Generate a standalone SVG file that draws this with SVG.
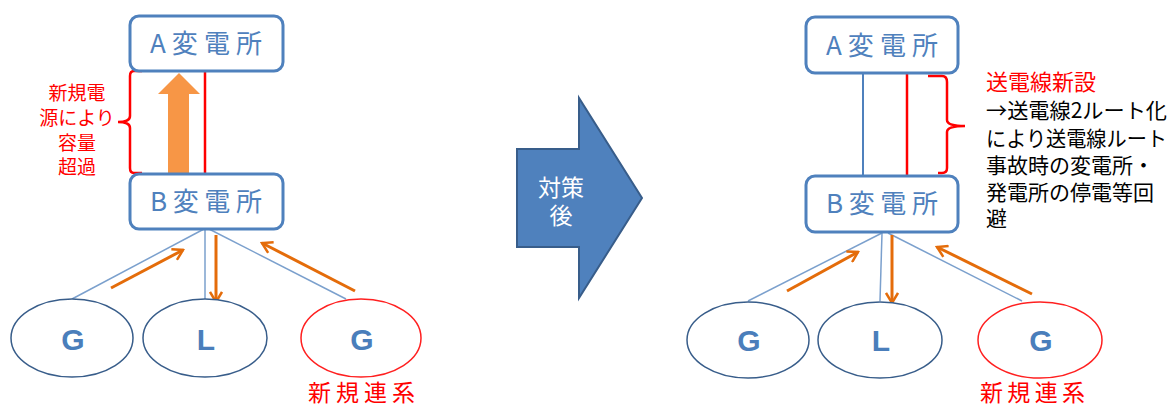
<svg xmlns="http://www.w3.org/2000/svg" width="1172" height="407" viewBox="0 0 1172 407">
<defs>
<style>
.box{fill:#fff;stroke:#4f81bd;stroke-width:3}
.boxt{font-family:"Noto Sans CJK JP","Liberation Sans",sans-serif;font-size:26px;fill:#4f81bd;text-anchor:middle}
.ell{fill:#fff;stroke:#385d8a;stroke-width:1.5}
.ellr{fill:#fff;stroke:#ff2020;stroke-width:1.5}
.gl{font-family:"Liberation Sans",Arial,sans-serif;font-weight:bold;font-size:30px;fill:#4a7ebb;text-anchor:middle}
.wire{stroke:#7ba0cd;stroke-width:1.5;fill:none}
.flow{stroke:#e46c0a;stroke-width:3;fill:none;marker-end:url(#ah)}
.red{stroke:#ff0000;stroke-width:2.5;fill:none}
.rt{font-family:"Noto Sans CJK JP",sans-serif;fill:#ff0000}
.bt{font-family:"Noto Sans CJK JP",sans-serif;fill:#000;font-size:21px}
</style>
<marker id="ah" viewBox="0 0 14 14" refX="12" refY="7" markerWidth="14" markerHeight="14" markerUnits="userSpaceOnUse" orient="auto">
<path d="M2,1 L12,7 L2,13" fill="none" stroke="#e46c0a" stroke-width="2.5"/>
</marker>
</defs>

<g id="connectors">
<line class="red" x1="205" y1="71" x2="205" y2="174"/>
<path class="red" d="M142,71 L134,71 Q130,71 130,76 L130,116 Q130,122 118,122 Q130,122 130,128 L130,168 Q130,173 134,173 L142,173"/>
<path d="M179,73 L200,94 L189,94 L189,174 L168,174 L168,94 L158,94 Z" fill="#f79646"/>
<line class="wire" x1="204" y1="229" x2="72" y2="299"/>
<line class="wire" x1="205" y1="229" x2="205" y2="299"/>
<line class="wire" x1="209" y1="229" x2="346" y2="299"/>
<line class="flow" x1="111" y1="288" x2="183" y2="250"/>
<line class="flow" x1="216" y1="235" x2="216" y2="302"/>
<line class="flow" x1="355" y1="291" x2="262" y2="243"/>

<line x1="863" y1="73" x2="863" y2="176" stroke="#4f81bd" stroke-width="2"/>
<line class="red" x1="907" y1="69" x2="907" y2="176"/>
<path class="red" d="M928,76 L942,76 Q947,76 947,82 L947,120 Q947,126 965,126 Q947,126 947,132 L947,168 Q947,173 942,173 L938,173"/>
<line class="wire" x1="882" y1="233" x2="748" y2="301"/>
<line class="wire" x1="882" y1="233" x2="880" y2="301"/>
<line class="wire" x1="888" y1="233" x2="1022" y2="301"/>
<line class="flow" x1="787" y1="291" x2="858" y2="252"/>
<line class="flow" x1="892" y1="235" x2="892" y2="303"/>
<line class="flow" x1="1032" y1="294" x2="937" y2="247"/>
</g>

<g id="A-left"><rect class="box" x="130" y="16" width="153" height="55" rx="9"/><text class="boxt" x="206" y="53" textLength="112" lengthAdjust="spacing">A変電所</text></g>
<g id="B-left"><rect class="box" x="130" y="174" width="153" height="55" rx="9"/><text class="boxt" x="206" y="211" textLength="112" lengthAdjust="spacing">B変電所</text></g>
<g id="note-left">
<text class="rt" font-size="19" text-anchor="middle"><tspan x="77" y="100">新規電</tspan><tspan x="77" y="125">源により</tspan><tspan x="77" y="150">容量</tspan><tspan x="77" y="174">超過</tspan></text>
</g>
<g id="G1-left"><ellipse class="ell" cx="72" cy="338" rx="61" ry="39"/><text class="gl" x="73" y="350">G</text></g>
<g id="L-left"><ellipse class="ell" cx="205" cy="338" rx="62" ry="39"/><text class="gl" x="206" y="350">L</text></g>
<g id="G2-left"><ellipse class="ellr" cx="361" cy="338" rx="60" ry="39"/><text class="gl" x="362" y="350">G</text>
<text class="rt" font-size="23" x="308" y="401" textLength="107" lengthAdjust="spacing">新規連系</text></g>

<g id="mid-arrow">
<path d="M517,149 L579,149 L579,98 L642,198 L579,298 L579,247 L517,247 Z" fill="#4f81bd" stroke="#385d8a" stroke-width="2"/>
<text font-family="Noto Sans CJK JP,sans-serif" font-size="23" fill="#fff" text-anchor="middle"><tspan x="561" y="196">対策</tspan><tspan x="561" y="224">後</tspan></text>
</g>

<g id="A-right"><rect class="box" x="806" y="17" width="152" height="56" rx="9"/><text class="boxt" x="882" y="55" textLength="112" lengthAdjust="spacing">A変電所</text></g>
<g id="B-right"><rect class="box" x="806" y="176" width="152" height="56" rx="9"/><text class="boxt" x="882" y="213" textLength="112" lengthAdjust="spacing">B変電所</text></g>
<g id="note-right">
<text class="rt" font-size="22" x="986" y="90">送電線新設</text>
<text class="bt"><tspan x="986" y="118" textLength="181" lengthAdjust="spacingAndGlyphs">→送電線2ルート化</tspan><tspan x="986" y="146" textLength="181" lengthAdjust="spacingAndGlyphs">により送電線ルート</tspan><tspan x="986" y="173">事故時の変電所・</tspan><tspan x="986" y="200">発電所の停電等回</tspan><tspan x="986" y="226">避</tspan></text>
</g>
<g id="G1-right"><ellipse class="ell" cx="748" cy="340" rx="61" ry="38"/><text class="gl" x="749" y="351">G</text></g>
<g id="L-right"><ellipse class="ell" cx="880" cy="340" rx="62" ry="38"/><text class="gl" x="881" y="351">L</text></g>
<g id="G2-right"><ellipse class="ellr" cx="1040" cy="340" rx="62" ry="38"/><text class="gl" x="1041" y="351">G</text>
<text class="rt" font-size="23" x="980" y="401" textLength="105" lengthAdjust="spacing">新規連系</text></g>
</svg>
